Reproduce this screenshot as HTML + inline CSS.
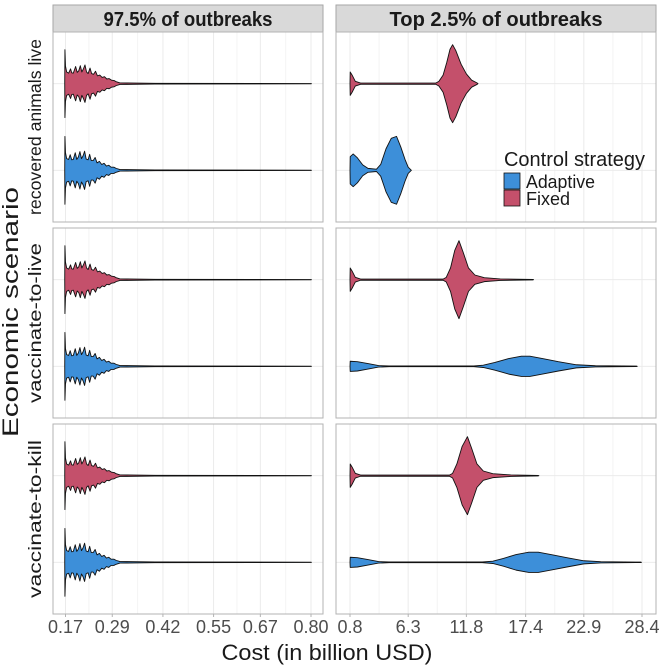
<!DOCTYPE html>
<html><head><meta charset="utf-8">
<style>
html,body{margin:0;padding:0;background:#fff;}
svg{display:block;font-family:"Liberation Sans",Arial,sans-serif;}
</style></head>
<body>
<svg id="chart" width="661" height="666" viewBox="0 0 661 666" xmlns="http://www.w3.org/2000/svg"></svg>
<script>
// ---- data ----
const facets = ["97.5% of outbreaks", "Top 2.5% of outbreaks"];
const scenarios = ["recovered animals live", "vaccinate-to-live", "vaccinate-to-kill"];
const strategies = ["Fixed", "Adaptive"];
const leftTicks = [0.17, 0.29, 0.42, 0.55, 0.67, 0.80];
const leftTickLabels = ["0.17", "0.29", "0.42", "0.55", "0.67", "0.80"];
const rightTicks = [0.8, 6.3, 11.8, 17.4, 22.9, 28.4];
const rightTickLabels = ["0.8", "6.3", "11.8", "17.4", "22.9", "28.4"];
// density profiles: [cost, relative half-width]
const leftFixed = [[0.168,0],[0.1685,0.87],[0.170,0.45],[0.173,0.3],[0.178,0.27],[0.183,0.38],[0.186,0.28],[0.190,0.27],[0.196,0.44],[0.200,0.29],[0.204,0.33],[0.208,0.46],[0.212,0.30],[0.216,0.38],[0.220,0.48],[0.224,0.30],[0.228,0.26],[0.233,0.40],[0.237,0.26],[0.242,0.24],[0.247,0.32],[0.252,0.20],[0.258,0.22],[0.264,0.16],[0.270,0.18],[0.276,0.12],[0.282,0.13],[0.288,0.09],[0.295,0.08],[0.30,0.05],[0.31,0.02],[0.40,0.01],[0.80,0.004],[0.801,0]];
const leftAdaptive = [[0.168,0],[0.1685,0.87],[0.170,0.45],[0.173,0.3],[0.178,0.28],[0.182,0.40],[0.186,0.27],[0.190,0.28],[0.195,0.45],[0.199,0.28],[0.203,0.34],[0.207,0.48],[0.211,0.30],[0.215,0.37],[0.219,0.49],[0.223,0.29],[0.228,0.27],[0.232,0.41],[0.236,0.25],[0.241,0.25],[0.246,0.33],[0.251,0.19],[0.257,0.23],[0.263,0.15],[0.269,0.18],[0.275,0.11],[0.281,0.13],[0.287,0.08],[0.294,0.08],[0.30,0.05],[0.31,0.02],[0.40,0.01],[0.80,0.004],[0.801,0]];
const r1Fixed = [[0.8,0],[0.82,0.3],[1.0,0.22],[1.3,0.06],[1.8,0.015],[8.9,0.015],[9.2,0.06],[9.6,0.22],[9.95,0.55],[10.25,0.88],[10.5,1.0],[10.8,0.85],[11.3,0.5],[11.8,0.25],[12.3,0.09],[12.8,0.02],[12.9,0]];
const r1Adaptive = [[0.8,0],[0.82,0.35],[1.1,0.42],[1.5,0.32],[2.0,0.14],[2.5,0.05],[3.3,0.03],[3.7,0.15],[4.2,0.55],[4.7,0.82],[5.2,0.87],[5.6,0.6],[6.0,0.28],[6.3,0.08],[6.6,0]];
const r2Fixed = [[0.8,0],[0.82,0.3],[1.0,0.22],[1.3,0.06],[1.8,0.015],[9.6,0.015],[9.9,0.06],[10.3,0.3],[10.7,0.75],[11.1,1.0],[11.5,0.7],[12.0,0.3],[12.6,0.12],[13.5,0.05],[15,0.02],[18.1,0.005],[18.15,0]];
const r2Adaptive = [[0.8,0],[0.82,0.13],[1.5,0.12],[2.5,0.07],[3.5,0.02],[4.5,0.008],[12.5,0.008],[13.4,0.03],[14.5,0.1],[15.8,0.2],[17.0,0.26],[17.8,0.26],[19,0.2],[20.5,0.12],[22.2,0.04],[24,0.015],[27.9,0.005],[27.95,0]];
const r3Fixed = [[0.8,0],[0.82,0.3],[1.0,0.22],[1.3,0.06],[1.8,0.015],[10.2,0.015],[10.5,0.06],[10.9,0.3],[11.4,0.75],[11.9,1.0],[12.3,0.7],[12.8,0.3],[13.4,0.12],[14.3,0.05],[16,0.02],[18.6,0.005],[18.65,0]];
const r3Adaptive = [[0.8,0],[0.82,0.13],[1.5,0.12],[2.5,0.07],[3.5,0.02],[4.5,0.008],[13.3,0.008],[14.3,0.03],[15.3,0.1],[16.5,0.2],[17.7,0.26],[18.6,0.26],[19.8,0.2],[21.3,0.12],[22.9,0.04],[24.5,0.015],[28.3,0.005],[28.35,0]];
const profiles = [
  [[leftFixed, leftAdaptive], [r1Fixed, r1Adaptive]],
  [[leftFixed, leftAdaptive], [r2Fixed, r2Adaptive]],
  [[leftFixed, leftAdaptive], [r3Fixed, r3Adaptive]]
];
const colors = {Fixed:"#c4506b", Adaptive:"#3d8fd9"};

// ---- layout ----
const NS = "http://www.w3.org/2000/svg";
const svg = document.getElementById("chart");
function el(tag, attrs, parent){const e=document.createElementNS(NS,tag);for(const k in attrs)e.setAttribute(k,attrs[k]);(parent||svg).appendChild(e);return e;}
const cols = [{x0:53,x1:323,d0:0.17,d1:0.80,p0:65.5,p1:311,ticks:leftTicks,labels:leftTickLabels,sw:169},
              {x0:336,x1:656,d0:0.8,d1:28.4,p0:350,p1:642,ticks:rightTicks,labels:rightTickLabels,sw:213}];
const rows = [{y0:32,y1:222,lw:176},{y0:228,y1:418,lw:160},{y0:424,y1:614,lw:158}];
function xScale(c, v){return c.p0 + (v-c.d0)/(c.d1-c.d0)*(c.p1-c.p0);}
const unit = 39;

cols.forEach((c,i)=>{
  const r = el("rect",{x:c.x0,y:5,width:c.x1-c.x0,height:27,fill:"#d9d9d9",stroke:"#a6a6a6","stroke-width":1});
  
  
  const t = el("text",{x:(c.x0+c.x1)/2,y:26,"text-anchor":"middle","font-size":20,"font-weight":"bold",fill:"#1a1a1a",textLength:c.sw,lengthAdjust:"spacingAndGlyphs"});
  t.textContent = facets[i];
  
  
});

rows.forEach((r,ri)=>{
  const h = r.y1-r.y0;
  const centers = [r.y0+h*0.272, r.y0+h*0.728];
  cols.forEach((c,ci)=>{
    const g = el("g",{});
    
    
    el("rect",{x:c.x0,y:r.y0,width:c.x1-c.x0,height:h,fill:"#fff"},g);
    for(let k=0;k<c.ticks.length-1;k++){
      const xm=(xScale(c,c.ticks[k])+xScale(c,c.ticks[k+1]))/2;
      el("line",{x1:xm,x2:xm,y1:r.y0,y2:r.y1,stroke:"#f4f4f4","stroke-width":1},g);
    }
    c.ticks.forEach(t=>{const x=xScale(c,t);el("line",{x1:x,x2:x,y1:r.y0,y2:r.y1,stroke:"#ebebeb","stroke-width":1},g);});
    centers.forEach(cy=>el("line",{x1:c.x0,x2:c.x1,y1:cy,y2:cy,stroke:"#ebebeb","stroke-width":1},g));
    strategies.forEach((s,si)=>{
      const pts = profiles[ri][ci][si];
      const cy = centers[si];
      let d = "";
      pts.forEach((p,i)=>{d += (i?"L":"M")+xScale(c,p[0]).toFixed(2)+","+(cy-p[1]*unit).toFixed(2);});
      for(let i=pts.length-1;i>=0;i--){const p=pts[i];d+="L"+xScale(c,p[0]).toFixed(2)+","+(cy+p[1]*unit).toFixed(2);}
      d+="Z";
      const v = el("path",{d:d,fill:colors[s],stroke:"#111","stroke-width":0.9,"stroke-linejoin":"round"},g);
      
      
    });
    el("rect",{x:c.x0,y:r.y0,width:c.x1-c.x0,height:h,fill:"none",stroke:"#b3b3b3","stroke-width":1},g);
  });
  const lab = el("text",{transform:"translate(41,"+((r.y0+r.y1)/2)+") rotate(-90)","text-anchor":"middle","font-size":17.5,fill:"#1a1a1a",textLength:r.lw,lengthAdjust:"spacingAndGlyphs"});
  lab.textContent = scenarios[ri];
  
  
});

cols.forEach(c=>{
  c.ticks.forEach((t,i)=>{
    const x=xScale(c,t);
    el("line",{x1:x,x2:x,y1:614,y2:617,stroke:"#b3b3b3"});
    const tx=el("text",{x:x,y:633,"text-anchor":"middle","font-size":18,fill:"#4d4d4d"});
    tx.textContent=c.labels[i];
    
    
  });
});
</script>
<svg style="position:absolute;left:0;top:0" width="661" height="666" xmlns="http://www.w3.org/2000/svg">
  <text x="327" y="660" text-anchor="middle" font-size="22" fill="#1a1a1a" font-family="Liberation Sans, sans-serif" textLength="211" lengthAdjust="spacingAndGlyphs">Cost (in billion USD)</text>
  <text transform="translate(18,312) rotate(-90)" text-anchor="middle" font-size="22" fill="#1a1a1a" font-family="Liberation Sans, sans-serif" textLength="250" lengthAdjust="spacingAndGlyphs">Economic scenario</text>
  <g font-family="Liberation Sans, sans-serif">
    <text x="504" y="166" font-size="20" fill="#1a1a1a" textLength="141" lengthAdjust="spacingAndGlyphs">Control strategy</text>
    <rect x="504" y="173" width="16" height="16" fill="#3d8fd9" stroke="#111" stroke-width="0.8"/>
    <text x="526" y="188" font-size="18" fill="#1a1a1a" textLength="69" lengthAdjust="spacingAndGlyphs">Adaptive</text>
    <rect x="504" y="190" width="16" height="16" fill="#c4506b" stroke="#111" stroke-width="0.8"/>
    <text x="526" y="205" font-size="18" fill="#1a1a1a">Fixed</text>
  </g>
</svg>
</body></html>
